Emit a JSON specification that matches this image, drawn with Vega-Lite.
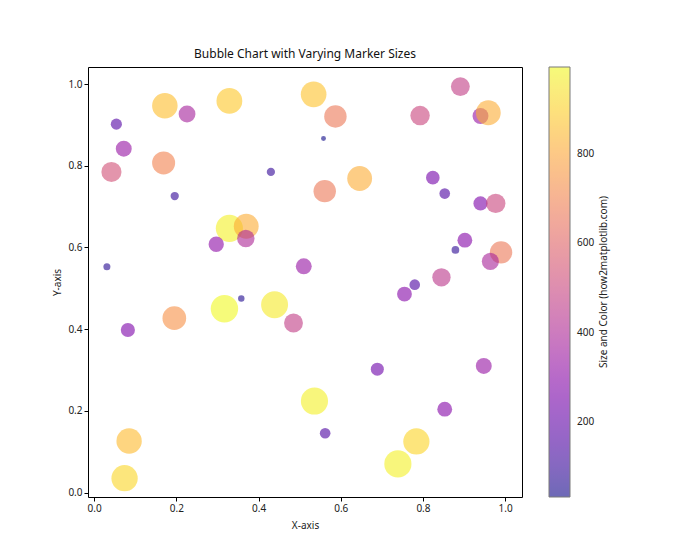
{
  "$schema": "https://vega.github.io/schema/vega-lite/v6.json",
  "autosize": {"type": "none"},
  "width": 434,
  "height": 430,
  "padding": {"left": 88, "top": 67, "right": 178, "bottom": 63},
  "background": "white",
  "config": {
    "font": "Noto Sans",
    "view": {"stroke": "black", "strokeWidth": 1},
    "axis": {
      "grid": false,
      "domain": false,
      "tickColor": "black",
      "tickSize": 4,
      "labelFontSize": 10,
      "labelColor": "#222",
      "titleFontSize": 10,
      "titleFontWeight": "normal",
      "titleColor": "#222",
      "labelPadding": 2
    },
    "title": {"fontSize": 12, "fontWeight": "normal", "color": "#111"}
  },
  "title": {"text": "Bubble Chart with Varying Marker Sizes", "offset": 6},
  "data": {
    "values": [
      {"x": 0.172, "y": 0.947, "v": 860},
      {"x": 0.329, "y": 0.959, "v": 880},
      {"x": 0.534, "y": 0.975, "v": 870},
      {"x": 0.226, "y": 0.927, "v": 375},
      {"x": 0.054, "y": 0.902, "v": 165},
      {"x": 0.072, "y": 0.842, "v": 335},
      {"x": 0.042, "y": 0.785, "v": 535},
      {"x": 0.169, "y": 0.807, "v": 700},
      {"x": 0.430, "y": 0.785, "v": 90},
      {"x": 0.196, "y": 0.726, "v": 90},
      {"x": 0.329, "y": 0.647, "v": 975},
      {"x": 0.370, "y": 0.652, "v": 815},
      {"x": 0.369, "y": 0.622, "v": 400},
      {"x": 0.297, "y": 0.608, "v": 310},
      {"x": 0.031, "y": 0.553, "v": 65},
      {"x": 0.510, "y": 0.554, "v": 335},
      {"x": 0.587, "y": 0.921, "v": 665},
      {"x": 0.558, "y": 0.867, "v": 32},
      {"x": 0.891, "y": 0.994, "v": 470},
      {"x": 0.793, "y": 0.923, "v": 500},
      {"x": 0.940, "y": 0.922, "v": 335},
      {"x": 0.959, "y": 0.930, "v": 815},
      {"x": 0.646, "y": 0.769, "v": 815},
      {"x": 0.561, "y": 0.738, "v": 665},
      {"x": 0.824, "y": 0.771, "v": 245},
      {"x": 0.853, "y": 0.732, "v": 150},
      {"x": 0.940, "y": 0.708, "v": 265},
      {"x": 0.977, "y": 0.708, "v": 500},
      {"x": 0.902, "y": 0.618, "v": 290},
      {"x": 0.879, "y": 0.594, "v": 78},
      {"x": 0.990, "y": 0.588, "v": 665},
      {"x": 0.964, "y": 0.566, "v": 385},
      {"x": 0.845, "y": 0.527, "v": 445},
      {"x": 0.780, "y": 0.509, "v": 150},
      {"x": 0.755, "y": 0.486, "v": 290},
      {"x": 0.689, "y": 0.302, "v": 225},
      {"x": 0.948, "y": 0.310, "v": 335},
      {"x": 0.536, "y": 0.224, "v": 975},
      {"x": 0.562, "y": 0.145, "v": 150},
      {"x": 0.853, "y": 0.204, "v": 290},
      {"x": 0.784, "y": 0.125, "v": 910},
      {"x": 0.739, "y": 0.070, "v": 975},
      {"x": 0.485, "y": 0.415, "v": 470},
      {"x": 0.082, "y": 0.398, "v": 265},
      {"x": 0.195, "y": 0.427, "v": 740},
      {"x": 0.317, "y": 0.450, "v": 995},
      {"x": 0.358, "y": 0.475, "v": 55},
      {"x": 0.439, "y": 0.460, "v": 960},
      {"x": 0.085, "y": 0.126, "v": 850},
      {"x": 0.074, "y": 0.035, "v": 915}
    ]
  },
  "mark": {"type": "circle", "opacity": 0.6, "strokeWidth": 0},
  "encoding": {
    "x": {
      "field": "x", "type": "quantitative",
      "scale": {"domain": [-0.015, 1.041], "nice": false, "zero": false},
      "axis": {"values": [0, 0.2, 0.4, 0.6, 0.8, 1.0], "format": ".1f", "title": "X-axis", "titlePadding": 7}
    },
    "y": {
      "field": "y", "type": "quantitative",
      "scale": {"domain": [-0.011, 1.042], "nice": false, "zero": false},
      "axis": {"values": [0, 0.2, 0.4, 0.6, 0.8, 1.0], "format": ".1f", "title": "Y-axis", "titlePadding": 5}
    },
    "size": {
      "field": "v", "type": "quantitative",
      "scale": {"type": "linear", "domain": [0, 1000], "range": [0, 757], "zero": true},
      "legend": null
    },
    "color": {
      "field": "v", "type": "quantitative",
      "scale": {"scheme": "plasma", "domain": [32, 995], "nice": false},
      "legend": {
        "orient": "none",
        "legendX": 461,
        "legendY": 0,
        "padding": 0,
        "direction": "vertical",
        "gradientLength": 430,
        "gradientThickness": 21,
        "gradientStrokeColor": "#222",
        "gradientStrokeWidth": 1,
        "values": [200, 400, 600, 800],
        "labelFontSize": 10,
        "labelColor": "#222",
        "labelOffset": 7,
        "title": "Size and Color (how2matplotlib.com)",
        "titleOrient": "right",
        "titleAnchor": "middle",
        "titleFontSize": 10,
        "titleFontWeight": "normal",
        "titleColor": "#222",
        "titlePadding": 5,
        "encoding": {
          "title": {"angle": {"value": 270}, "baseline": {"value": "top"}}
        }
      }
    }
  }
}
